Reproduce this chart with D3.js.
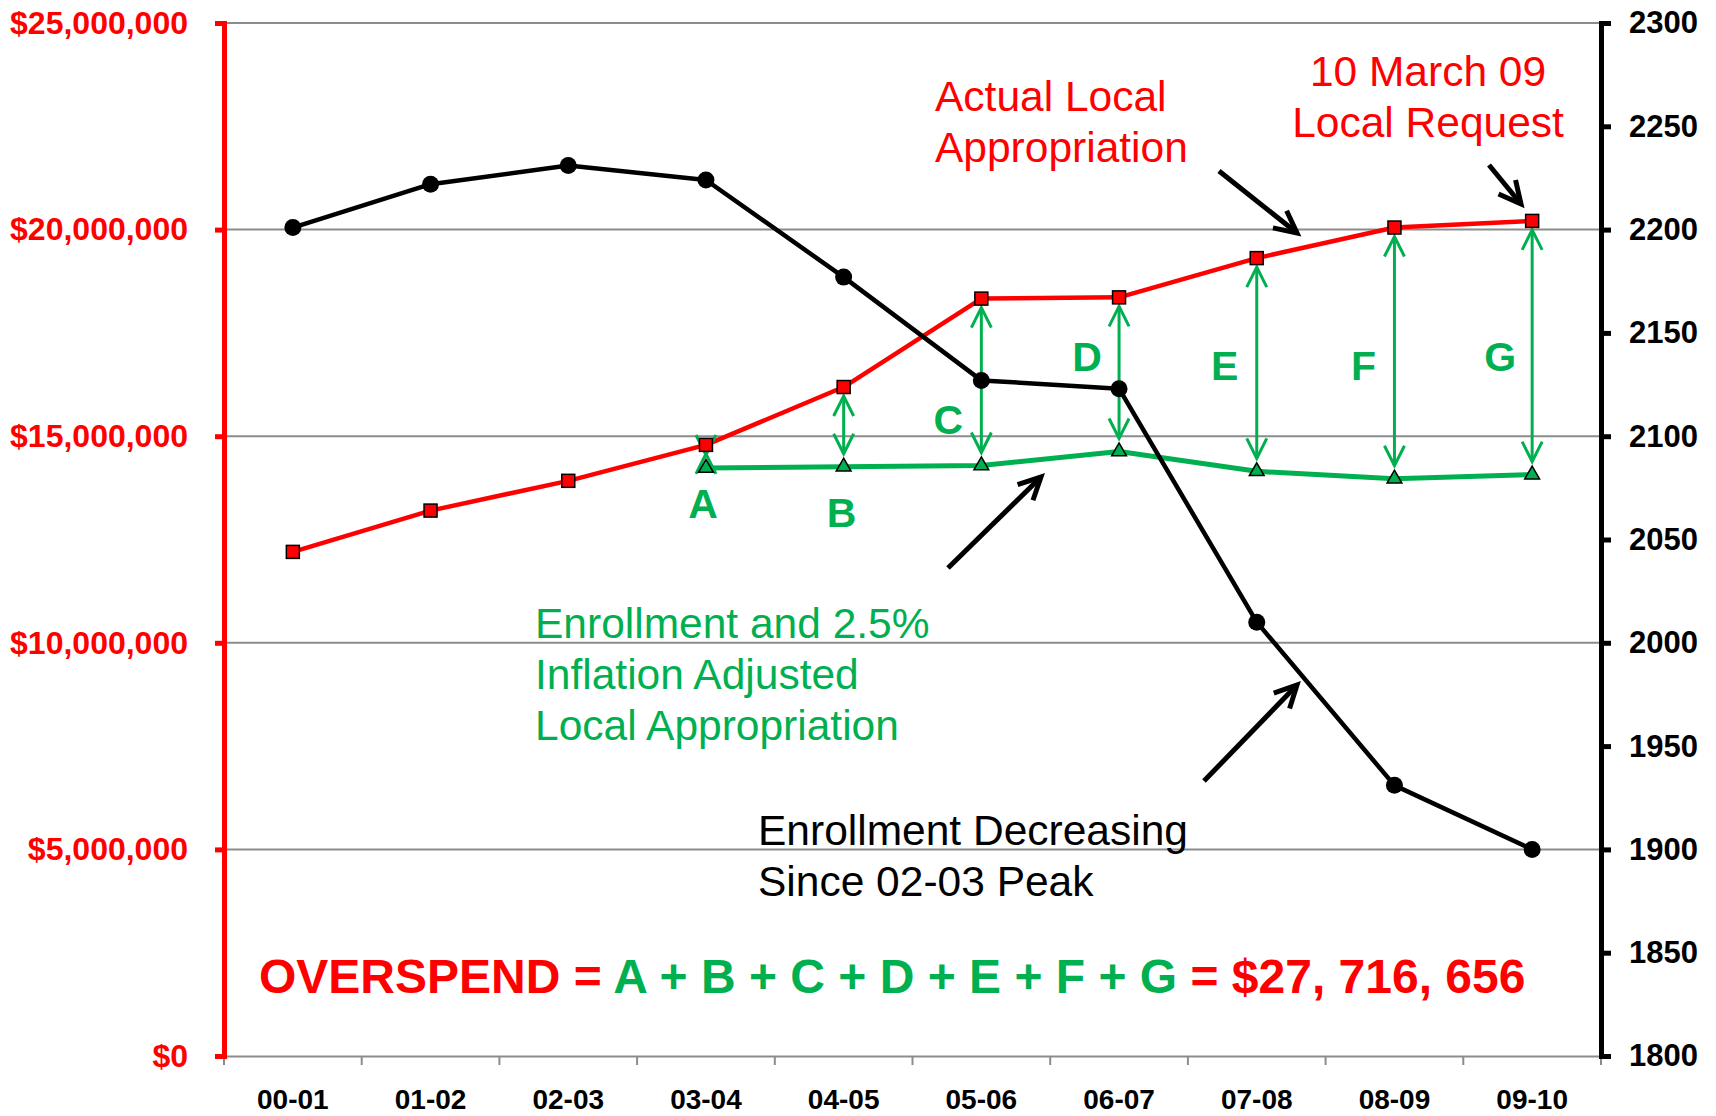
<!DOCTYPE html>
<html>
<head>
<meta charset="utf-8">
<script src="https://cdn.jsdelivr.net/npm/d3@7"></script>
<style>
  body { margin: 0; background: #fff; }
  svg { display: block; font-family: "Liberation Sans", Arial, sans-serif; }
</style>
</head>
<body>
<div class="chart"></div>
<script>
const years = ['00-01', '01-02', '02-03', '03-04', '04-05', '05-06', '06-07', '07-08', '08-09', '09-10'];
const actualLocal = [12200000, 13200000, 13920000, 14790000, 16190000, 18330000, 18360000, 19310000, 20050000, 20210000];
const adjustedLocal = [null, null, null, 14230000, 14260000, 14290000, 14630000, 14150000, 13970000, 14070000];
const enrollment = [2201, 2222, 2231, 2224, 2177, 2127, 2123, 2010, 1931, 1900];
const moneyTicks = [0, 5000000, 10000000, 15000000, 20000000, 25000000];
const enrollTicks = [1800, 1850, 1900, 1950, 2000, 2050, 2100, 2150, 2200, 2250, 2300];
const gapLabels = ['A', 'B', 'C', 'D', 'E', 'F', 'G'];

const RED = '#ff0000', GREEN = '#00b050', GRID = '#8c8c8c';
const width = 1716, height = 1116;
const plotLeft = 224, plotRight = 1601, plotTop = 23, plotBottom = 1056;

const svg = d3.select('.chart').append('svg')
  .attr('width', width)
  .attr('height', height);

const defs = svg.append('defs');
const addHead = (id, color, len, half, sw) => {
  defs.append('marker')
    .attr('id', id)
    .attr('viewBox', `0 ${-half - 4} ${len + 4} ${2 * half + 8}`)
    .attr('refX', len).attr('refY', 0)
    .attr('markerUnits', 'userSpaceOnUse')
    .attr('markerWidth', len + 4).attr('markerHeight', 2 * half + 8)
    .attr('orient', 'auto-start-reverse')
    .style('overflow', 'visible')
    .append('path')
    .attr('d', `M0,${-half} L${len},0 L0,${half}`)
    .attr('fill', 'none')
    .attr('stroke', color)
    .attr('stroke-width', sw);
};
addHead('headBlack', '#000', 22, 11, 5);
addHead('headGreen', GREEN, 20, 10, 3);

const x = d3.scaleBand().domain(years).range([plotLeft, plotRight]).padding(0);
const cx = d => x(d) + x.bandwidth() / 2;
const yMoney = d3.scaleLinear().domain([0, 25000000]).range([plotBottom, plotTop]);
const yEnroll = d3.scaleLinear().domain([1800, 2300]).range([plotBottom, plotTop]);

// gridlines
svg.append('g')
  .selectAll('line')
  .data(moneyTicks.slice(1))
  .enter().append('line')
  .attr('x1', plotLeft).attr('x2', plotRight)
  .attr('y1', d => yMoney(d)).attr('y2', d => yMoney(d))
  .attr('stroke', GRID).attr('stroke-width', 2);

// x axis
const xAxis = svg.append('g')
  .attr('transform', `translate(0,${plotBottom})`)
  .call(d3.axisBottom(x).tickSize(0).tickPadding(33));
xAxis.select('.domain').attr('stroke', GRID).attr('stroke-width', 2);
xAxis.selectAll('text')
  .attr('font-size', 28).attr('font-weight', 'bold').attr('fill', '#000')
  .attr('font-family', '"Liberation Sans", Arial, sans-serif');
svg.append('g')
  .selectAll('line')
  .data(d3.range(years.length + 1))
  .enter().append('line')
  .attr('x1', i => plotLeft + i * x.bandwidth()).attr('x2', i => plotLeft + i * x.bandwidth())
  .attr('y1', plotBottom).attr('y2', plotBottom + 9)
  .attr('stroke', GRID).attr('stroke-width', 2);

// left axis
const yAxisL = svg.append('g')
  .attr('transform', `translate(${plotLeft},0)`)
  .call(d3.axisLeft(yMoney).tickValues(moneyTicks).tickFormat(d3.format('$,.0f')).tickSize(9).tickPadding(27));
yAxisL.select('.domain').attr('stroke', RED).attr('stroke-width', 5);
yAxisL.selectAll('.tick line').attr('stroke', RED).attr('stroke-width', 5);
yAxisL.selectAll('text')
  .attr('font-size', 32).attr('font-weight', 'bold').attr('fill', RED)
  .attr('font-family', '"Liberation Sans", Arial, sans-serif');

// right axis
const yAxisR = svg.append('g')
  .attr('transform', `translate(${plotRight},0)`)
  .call(d3.axisRight(yEnroll).tickValues(enrollTicks).tickFormat(d3.format('d')).tickSize(10).tickPadding(18));
yAxisR.select('.domain').attr('stroke', '#000').attr('stroke-width', 5);
yAxisR.selectAll('.tick line').attr('stroke', '#000').attr('stroke-width', 5);
yAxisR.selectAll('text')
  .attr('font-size', 31).attr('font-weight', 'bold').attr('fill', '#000')
  .attr('font-family', '"Liberation Sans", Arial, sans-serif');

// series lines
const actualPts = years.map((d, i) => ({ year: d, v: actualLocal[i] }));
const adjustedPts = years.map((d, i) => ({ year: d, v: adjustedLocal[i] })).filter(d => d.v !== null);
const enrollPts = years.map((d, i) => ({ year: d, v: enrollment[i] }));

const line = yScale => d3.line().x(d => cx(d.year)).y(d => yScale(d.v));

svg.append('path').datum(adjustedPts)
  .attr('d', line(yMoney)).attr('fill', 'none')
  .attr('stroke', GREEN).attr('stroke-width', 5).attr('stroke-linejoin', 'round');

svg.append('path').datum(actualPts)
  .attr('d', line(yMoney)).attr('fill', 'none')
  .attr('stroke', RED).attr('stroke-width', 4.5).attr('stroke-linejoin', 'round');

svg.append('path').datum(enrollPts)
  .attr('d', line(yEnroll)).attr('fill', 'none')
  .attr('stroke', '#000').attr('stroke-width', 4.5).attr('stroke-linejoin', 'round');

// gap arrows between actual and adjusted
const gaps = adjustedPts.map(d => ({ year: d.year, lo: d.v, hi: actualLocal[years.indexOf(d.year)] }));
svg.append('g')
  .selectAll('line')
  .data(gaps)
  .enter().append('line')
  .attr('x1', d => cx(d.year)).attr('x2', d => cx(d.year))
  .attr('y1', d => yMoney(d.hi) + 9)
  .attr('y2', d => yMoney(d.lo) - 13)
  .attr('stroke', GREEN).attr('stroke-width', 3)
  .attr('marker-start', 'url(#headGreen)')
  .attr('marker-end', 'url(#headGreen)');

// markers
svg.append('g').selectAll('path')
  .data(adjustedPts).enter().append('path')
  .attr('d', d3.symbol(d3.symbolTriangle, 95))
  .attr('transform', d => `translate(${cx(d.year)},${yMoney(d.v)})`)
  .attr('fill', GREEN).attr('stroke', '#000').attr('stroke-width', 1.5);

svg.append('g').selectAll('rect')
  .data(actualPts).enter().append('rect')
  .attr('x', d => cx(d.year) - 6.5).attr('y', d => yMoney(d.v) - 6.5)
  .attr('width', 13).attr('height', 13)
  .attr('fill', RED).attr('stroke', '#000').attr('stroke-width', 1.5);

svg.append('g').selectAll('circle')
  .data(enrollPts).enter().append('circle')
  .attr('cx', d => cx(d.year)).attr('cy', d => yEnroll(d.v))
  .attr('r', 8.5).attr('fill', '#000');

// gap letters
const letterOffsets = [[-3, 518], [-2, 527], [-33, 434], [-32, 371], [-32, 380], [-31, 380], [-32, 371]];
svg.append('g').selectAll('text')
  .data(gaps).enter().append('text')
  .attr('x', (d, i) => cx(d.year) + letterOffsets[i][0])
  .attr('y', (d, i) => letterOffsets[i][1])
  .attr('text-anchor', 'middle')
  .attr('font-size', 41).attr('font-weight', 'bold').attr('fill', GREEN)
  .text((d, i) => gapLabels[i]);

// annotations
const note = (lines, xPos, y0, color, anchor) => {
  const t = svg.append('text')
    .attr('font-size', 42.5).attr('fill', color)
    .attr('text-anchor', anchor || 'start');
  lines.forEach((s, i) => {
    t.append('tspan').attr('x', xPos).attr('y', y0 + i * 51).text(s);
  });
};
note(['Actual Local', 'Appropriation'], 935, 111, RED);
note(['10 March 09', 'Local Request'], 1428, 86, RED, 'middle');
note(['Enrollment and 2.5%', 'Inflation Adjusted', 'Local Appropriation'], 535, 638, GREEN);
note(['Enrollment Decreasing', 'Since 02-03 Peak'], 758, 845, '#000');

const pointer = (x1, y1, x2, y2) => {
  svg.append('line')
    .attr('x1', x1).attr('y1', y1).attr('x2', x2).attr('y2', y2)
    .attr('stroke', '#000').attr('stroke-width', 5)
    .attr('marker-end', 'url(#headBlack)');
};
pointer(1219, 171, 1297, 233);
pointer(1489, 165, 1521, 204);
pointer(948, 568, 1041, 477);
pointer(1204, 781, 1297, 685);

// overspend formula
const formula = svg.append('text')
  .attr('x', 259).attr('y', 993)
  .attr('font-size', 48).attr('font-weight', 'bold').attr('fill', RED);
formula.append('tspan').text('OVERSPEND = ');
gapLabels.forEach((g, i) => {
  formula.append('tspan').attr('fill', GREEN).text(g + (i < gapLabels.length - 1 ? ' + ' : ' '));
});
formula.append('tspan').text('= $27, 716, 656');
</script>
</body>
</html>
